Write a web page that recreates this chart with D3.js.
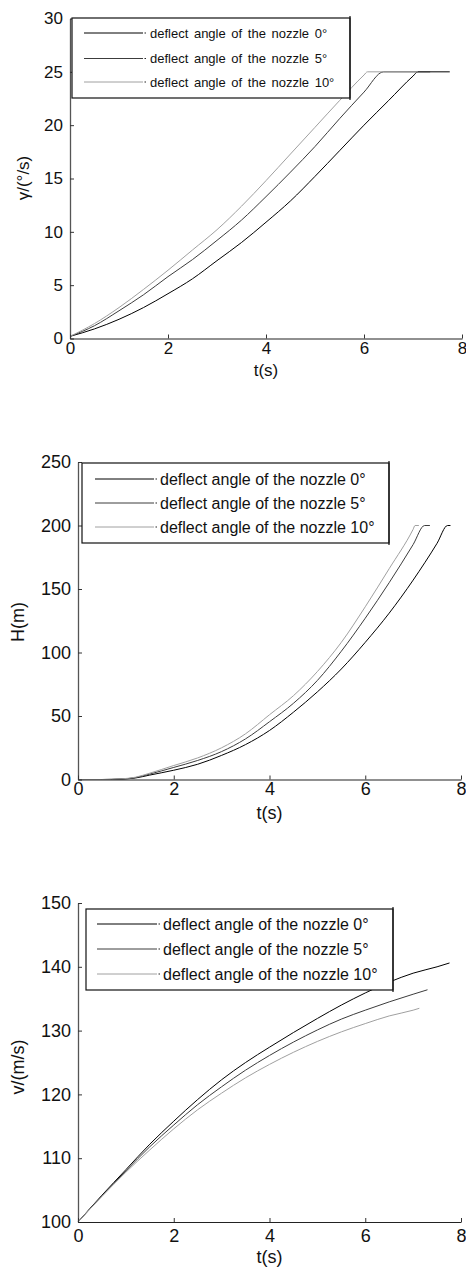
<!DOCTYPE html>
<html>
<head>
<meta charset="utf-8">
<script src="https://cdn.jsdelivr.net/npm/d3@7"></script>
<style>
  body { margin: 0; background: #fff; }
  svg { display: block; font-family: "Liberation Sans", Arial, sans-serif; }
</style>
</head>
<body>
<svg id="chart" width="466" height="1274"></svg>
<script>
// legend + ticks
var legendLabels = ["deflect angle of the nozzle 0°", "deflect angle of the nozzle 5°", "deflect angle of the nozzle 10°"];
var xTicks = [0, 2, 4, 6, 8];
var rateTicks = [0, 5, 10, 15, 20, 25, 30];
var heightTicks = [0, 50, 100, 150, 200, 250];
var speedTicks = [100, 110, 120, 130, 140, 150];

// roll rate gamma (deg/s) vs t(s)
var rate0 = [[0,0.2],[0.5,0.9],[1,1.8],[1.5,2.9],[2,4.2],[2.5,5.6],[3,7.3],[3.5,9.0],[4,10.9],[4.5,12.9],[5,15.2],[5.5,17.6],[6,20.0],[6.5,22.3],[7,24.6],[7.1,25],[7.75,25]];
var rate5 = [[0,0.2],[0.5,1.2],[1,2.6],[1.5,4.1],[2,5.8],[2.5,7.4],[3,9.2],[3.5,11.1],[4,13.3],[4.5,15.6],[5,18.0],[5.5,20.6],[6,23.1],[6.4,25],[7.35,25]];
var rate10 = [[0,0.2],[0.5,1.4],[1,2.9],[1.5,4.6],[2,6.4],[2.5,8.3],[3,10.2],[3.5,12.4],[4,14.8],[4.5,17.3],[5,19.8],[5.5,22.3],[6,24.7],[6.07,25],[7.1,25]];

// height H(m) vs t(s)
var height0 = [[0,0],[0.5,0],[0.9,0.3],[1.2,1.2],[1.5,3.5],[2,7.3],[2.5,12],[3,19],[3.5,27.5],[4,38.6],[4.5,53],[5,69],[5.5,87],[6,108],[6.5,131],[7,157],[7.5,186],[7.72,200],[7.78,200]];
var height5 = [[0,0],[0.5,0],[0.9,0.4],[1.2,1.5],[1.5,4.3],[2,9.5],[2.5,15],[3,22],[3.5,32],[4,45.5],[4.5,60],[5,78],[5.5,101],[6,127],[6.5,155],[7,185],[7.24,200],[7.35,200]];
var height10 = [[0,0],[0.5,0],[0.9,0.5],[1.2,1.8],[1.5,5],[2,11],[2.5,17],[3,25],[3.5,36],[4,51],[4.5,66],[5,85],[5.5,108],[6,136],[6.5,166],[7,197],[7.04,200],[7.12,200]];

// speed v(m/s) vs t(s)
var speed0 = [[0,100],[0.5,104.2],[1,108.2],[1.5,112.2],[2,115.8],[2.5,119.2],[3,122.3],[3.5,125.0],[4,127.4],[4.5,129.7],[5,131.9],[5.5,134.0],[6,135.9],[6.5,137.6],[7,139.0],[7.5,140.0],[7.76,140.6]];
var speed5 = [[0,100],[0.5,104.1],[1,108.0],[1.5,111.8],[2,115.2],[2.5,118.4],[3,121.2],[3.5,123.8],[4,126.1],[4.5,128.2],[5,130.1],[5.5,131.8],[6,133.2],[6.5,134.5],[7,135.7],[7.3,136.4]];
var speed10 = [[0,100],[0.5,104.0],[1,107.8],[1.5,111.3],[2,114.6],[2.5,117.6],[3,120.2],[3.5,122.6],[4,124.7],[4.5,126.6],[5,128.3],[5.5,129.8],[6,131.1],[6.5,132.3],[7,133.2],[7.13,133.5]];

var colors = ["#000000", "#3c3c3c", "#a0a0a0"];

var svg = d3.select("#chart");

function drawPanel(p){
  var x = d3.scaleLinear().domain([0, 8]).range([p.left, p.right]);
  var y = d3.scaleLinear().domain(p.yDomain).range([p.bottom, p.top]);
  var g = svg.append("g");

  var line = d3.line()
    .x(function(d){ return x(d[0]); })
    .y(function(d){ return y(d[1]); })
    .curve(d3.curveMonotoneX);

  //curves
  p.series.forEach(function(s, i){
    g.append("path")
      .attr("d", line(s))
      .attr("fill", "none")
      .attr("stroke", colors[i])
      .attr("stroke-width", 1);
  });

  //y axis, ticks inside
  var yAxis = d3.axisLeft(y).tickValues(p.yTicks).tickSize(0).tickPadding(7);
  var ya = g.append("g").attr("transform", `translate(${p.left},0)`).call(yAxis);
  ya.select(".domain").attr("stroke", "#555").attr("stroke-width", 1.3);
  ya.selectAll("text").attr("font-size", p.fs).attr("fill", "#111")
    .attr("font-family", "Liberation Sans, Arial, sans-serif");
  ya.selectAll(".tick").append("line").attr("x1", 0).attr("x2", 4).attr("stroke", "#333");

  var xAxis = d3.axisBottom(x).tickValues(xTicks).tickSize(0).tickPadding(p.xPad);
  var xa = g.append("g").attr("transform", `translate(0,${p.bottom})`).call(xAxis);
  xa.select(".domain").attr("stroke", "#222").attr("stroke-width", 1.2);
  xa.selectAll("text").attr("font-size", p.fs).attr("fill", "#111")
    .attr("font-family", "Liberation Sans, Arial, sans-serif");
  xa.selectAll(".tick").append("line").attr("y1", 0).attr("y2", -4).attr("stroke", "#333");

  g.append("text")
    .attr("x", (p.left + p.right) / 2)
    .attr("y", p.xLabelY)
    .attr("text-anchor", "middle")
    .attr("font-size", p.fs)
    .attr("fill", "#111")
    .text("t(s)");

  g.append("text")
    .attr("transform", `translate(${p.yLabelX},${p.yLabelY}) rotate(-90)`)
    .attr("text-anchor", "middle")
    .attr("font-size", p.fs)
    .attr("fill", "#111")
    .text(p.yLabel);

  //legend
  var L = p.legend;
  g.append("rect")
    .attr("x", L.x0).attr("y", L.y0)
    .attr("width", L.x1 - L.x0).attr("height", L.y1 - L.y0)
    .attr("fill", "#fff").attr("stroke", "#111").attr("stroke-width", 1.2);
  g.append("line").attr("x1", L.x1).attr("x2", L.x1).attr("y1", L.y0 - 2).attr("y2", L.y1 + 2)
    .attr("stroke", "#111").attr("stroke-width", 1.2);

  legendLabels.forEach(function(lab, i){
    var ry = L.rows[i];
    g.append("line")
      .attr("x1", L.lx0).attr("x2", L.lx1)
      .attr("y1", ry).attr("y2", ry)
      .attr("stroke", colors[i]).attr("stroke-width", 1);
    g.append("line")
      .attr("x1", L.lx1 + 1.5).attr("x2", L.lx1 + 3)
      .attr("y1", ry).attr("y2", ry)
      .attr("stroke", "#222").attr("stroke-width", 1.2);
    g.append("text")
      .attr("x", L.tx)
      .attr("y", ry)
      .attr("dy", "0.35em")
      .attr("font-size", L.fs)
      .attr("word-spacing", L.ws)
      .attr("fill", "#111")
      .text(lab);
  });
}

drawPanel({
  left: 70, right: 462, top: 18.5, bottom: 338.5,
  yDomain: [0, 30], yTicks: rateTicks, xPad: 3, fs: 17,
  series: [rate0, rate5, rate10],
  xLabelY: 376, yLabel: "γ/(°/s)", yLabelX: 29, yLabelY: 178,
  legend: { x0: 72, x1: 350, y0: 18, y1: 98, lx0: 84, lx1: 143, tx: 150, rows: [33, 58.5, 82], fs: 13, ws: 2 }
});

drawPanel({
  left: 78, right: 461, top: 462, bottom: 779.5,
  yDomain: [0, 250], yTicks: heightTicks, xPad: 3, fs: 18,
  series: [height0, height5, height10],
  xLabelY: 819, yLabel: "H(m)", yLabelX: 24, yLabelY: 622,
  legend: { x0: 82, x1: 389, y0: 463, y1: 543, lx0: 95, lx1: 154, tx: 160, rows: [479, 503, 527], fs: 16, ws: 0 }
});

drawPanel({
  left: 78, right: 461, top: 903, bottom: 1222,
  yDomain: [100, 150], yTicks: speedTicks, xPad: 7, fs: 18,
  series: [speed0, speed5, speed10],
  xLabelY: 1263, yLabel: "v/(m/s)", yLabelX: 24, yLabelY: 1067,
  legend: { x0: 86, x1: 393, y0: 909, y1: 990, lx0: 97, lx1: 157, tx: 163, rows: [924, 949, 974], fs: 16, ws: 0 }
});
</script>
</body>
</html>
